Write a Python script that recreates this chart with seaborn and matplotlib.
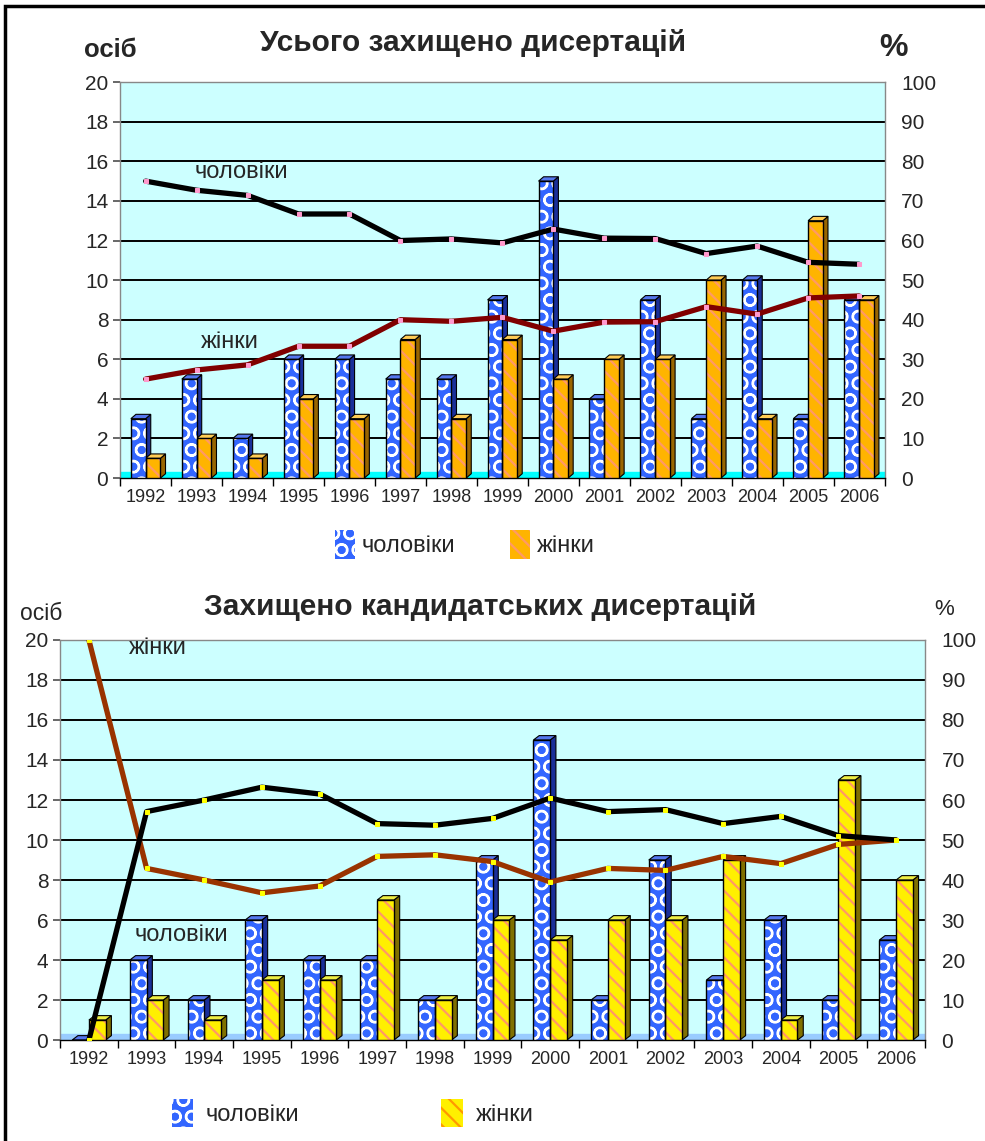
import numpy as np
import pandas as pd
import matplotlib.pyplot as plt
import seaborn as sns
from matplotlib.patches import Patch, Polygon, Rectangle

years = [str(y) for y in range(1992, 2007)]

# all defended dissertations (persons)
all_men = [3, 5, 2, 6, 6, 5, 5, 9, 15, 4, 9, 3, 10, 3, 9]
all_women = [1, 2, 1, 4, 3, 7, 3, 7, 5, 6, 6, 10, 3, 13, 9]
# share, %
all_men_pct = [75, 72.7, 71.4, 66.7, 66.7, 60.0, 60.4, 59.4, 62.9, 60.6, 60.5, 56.7, 58.6, 54.5, 54.0]
all_women_pct = [25, 27.3, 28.6, 33.3, 33.3, 40.0, 39.6, 40.6, 37.1, 39.4, 39.5, 43.3, 41.4, 45.5, 46.0]

# candidate dissertations (persons)
cand_men = [0, 4, 2, 6, 4, 4, 2, 9, 15, 2, 9, 3, 6, 2, 5]
cand_women = [1, 2, 1, 3, 3, 7, 2, 6, 5, 6, 6, 9, 1, 13, 8]
cand_men_pct = [0, 57.1, 60.0, 63.2, 61.5, 54.1, 53.7, 55.4, 60.5, 57.1, 57.6, 54.1, 55.9, 51.1, 50.0]
cand_women_pct = [100, 42.9, 40.0, 36.8, 38.5, 45.9, 46.3, 44.6, 39.5, 42.9, 42.4, 45.9, 44.1, 48.9, 50.0]

sns.set_theme(style="white")
plt.rcParams["font.family"] = ["Liberation Sans", "DejaVu Sans"]
plt.rcParams["hatch.linewidth"] = 1.6

BLUE = "#3366FF"
ORANGE = "#FFB400"
YELLOW = "#FFF000"


def add_depth(ax, patches, side, top, dx, dy):
    for p in patches:
        x, w, h = p.get_x(), p.get_width(), p.get_height()
        r = x + w
        ax.add_patch(Polygon([(r, 0), (r + dx, dy), (r + dx, h + dy), (r, h)],
                             closed=True, facecolor=side, edgecolor="black", lw=0.8, zorder=2))
        ax.add_patch(Polygon([(x, h), (x + dx, h + dy), (r + dx, h + dy), (r, h)],
                             closed=True, facecolor=top, edgecolor="black", lw=0.8, zorder=2))


def draw_panel(rect, men, women, men_pct, women_pct, wcol, wside, wtop, wline,
               mark_col, floor_col, dx):
    ax = fig.add_axes(rect)
    df = pd.DataFrame({
        "year": years * 2,
        "count": men + women,
        "group": ["чоловіки"] * len(years) + ["жінки"] * len(years),
    })
    sns.barplot(data=df, x="year", y="count", hue="group",
                palette={"чоловіки": BLUE, "жінки": wcol},
                width=0.58, saturation=1, legend=False, ax=ax, zorder=3)
    n = len(years)
    bars = list(ax.patches)
    men_bars, women_bars = bars[:n], bars[n:2 * n]
    for p, hcol, hatch in [(b, "white", "O") for b in men_bars] + \
                          [(b, "#FF9966", "\\\\") for b in women_bars]:
        p.set_hatch(hatch)
        p.set_edgecolor(hcol)
        p.set_linewidth(0)
        p.set_zorder(3)
        ax.add_patch(Rectangle((p.get_x(), 0), p.get_width(), p.get_height(),
                               fill=False, edgecolor="black", lw=1.0, zorder=3.5))
    add_depth(ax, men_bars, "#1a2f99", "#5577ee", dx, 0.22)
    add_depth(ax, women_bars, wside, wtop, dx, 0.22)

    ax.set_facecolor("#CCFFFF")
    ax.axhspan(0, 0.3, color=floor_col, zorder=1)
    ax.set_ylim(0, 20)
    ax.set_xlim(-0.5, n - 0.5)
    ax.set_yticks(range(0, 21, 2))
    ax.yaxis.grid(True, color="black", linewidth=1.4, zorder=0)
    ax.set_axisbelow(True)
    ax.set_xlabel("")
    ax.set_ylabel("")
    ax.tick_params(axis="y", labelsize=15, length=5, color="#555555", left=True)
    ax.tick_params(axis="x", labelsize=13, length=0, pad=8)
    ax.set_xticks(np.arange(-0.5, n, 1), minor=True)
    ax.tick_params(axis="x", which="minor", length=6, color="black", bottom=True)
    for s in ax.spines.values():
        s.set_color("#888888")
        s.set_linewidth(1.0)
    ax.spines["bottom"].set_color("black")

    ax2 = ax.twinx()
    xs = np.arange(n)
    sns.lineplot(x=xs, y=women_pct, ax=ax2, color=wline, linewidth=3.8,
                 marker="s", markersize=3, markerfacecolor=mark_col,
                 markeredgecolor=mark_col)
    sns.lineplot(x=xs, y=men_pct, ax=ax2, color="black", linewidth=3.8,
                 marker="s", markersize=3, markerfacecolor=mark_col,
                 markeredgecolor=mark_col)
    ax2.set_ylim(0, 100)
    ax2.set_yticks(range(0, 101, 10))
    ax2.tick_params(axis="y", labelsize=15, length=0, pad=12)
    ax2.grid(False)
    for s in ax2.spines.values():
        s.set_visible(False)
    return ax, ax2


fig = plt.figure(figsize=(9.85, 11.41), dpi=100)

# ---- top chart: all dissertations ----
ax_a, ax_a2 = draw_panel([0.122, 0.581, 0.776, 0.347], all_men, all_women,
                         all_men_pct, all_women_pct, ORANGE, "#996600", "#FFCC55",
                         "#800000", "#FF99CC", "#00FFFF", 0.1)
ax_a.text(0.97, 15.45, "чоловіки", fontsize=17, va="center", zorder=6)
ax_a.text(1.09, 6.87, "жінки", fontsize=17, va="center", zorder=6)
fig.text(0.48, 0.962, "Усього захищено дисертацій", ha="center", va="center",
         fontsize=21.5, fontweight="bold")
fig.text(0.112, 0.956, "осіб", ha="center", va="center", fontsize=18.5, fontweight="bold")
fig.text(0.907, 0.958, "%", ha="center", va="center", fontsize=23, fontweight="bold")

h_men = Patch(facecolor=BLUE, edgecolor="white", hatch="O", linewidth=0)
h_w1 = Patch(facecolor=ORANGE, edgecolor="#FF9966", hatch="\\\\", linewidth=0)
fig.legend([h_men, h_w1], ["чоловіки", "жінки"], loc="center",
           bbox_to_anchor=(0.472, 0.523), ncol=2, frameon=False,
           fontsize=17, handlelength=0.85, handleheight=1.5,
           columnspacing=2.3, handletextpad=0.3)

# ---- bottom chart: candidate dissertations ----
ax_b, ax_b2 = draw_panel([0.061, 0.0885, 0.878, 0.3506], cand_men, cand_women,
                         cand_men_pct, cand_women_pct, YELLOW, "#807000", "#EEEE44",
                         "#993300", "#FFFF00", "#99CCFF", 0.1)
ax_b.text(0.70, 19.6, "жінки", fontsize=17, va="center", zorder=6)
ax_b.text(0.80, 5.25, "чоловіки", fontsize=17, va="center", zorder=6)
fig.text(0.487, 0.468, "Захищено кандидатських дисертацій", ha="center", va="center",
         fontsize=21.5, fontweight="bold")
fig.text(0.042, 0.4627, "осіб", ha="center", va="center", fontsize=16.5)
fig.text(0.958, 0.4655, "%", ha="center", va="center", fontsize=16)

h_w2 = Patch(facecolor=YELLOW, edgecolor="#FF9900", hatch="\\\\", linewidth=0)
fig.legend([h_men, h_w2], ["чоловіки", "жінки"], loc="center",
           bbox_to_anchor=(0.358, 0.0245), ncol=2, frameon=False,
           fontsize=17, handlelength=0.9, handleheight=1.5,
           columnspacing=6.0, handletextpad=0.55)

# outer frame
fig.add_artist(Rectangle((0.005, -0.01), 1.0, 1.005, transform=fig.transFigure,
                         fill=False, edgecolor="black", linewidth=2.5))

plt.savefig("out.png", dpi=100)
